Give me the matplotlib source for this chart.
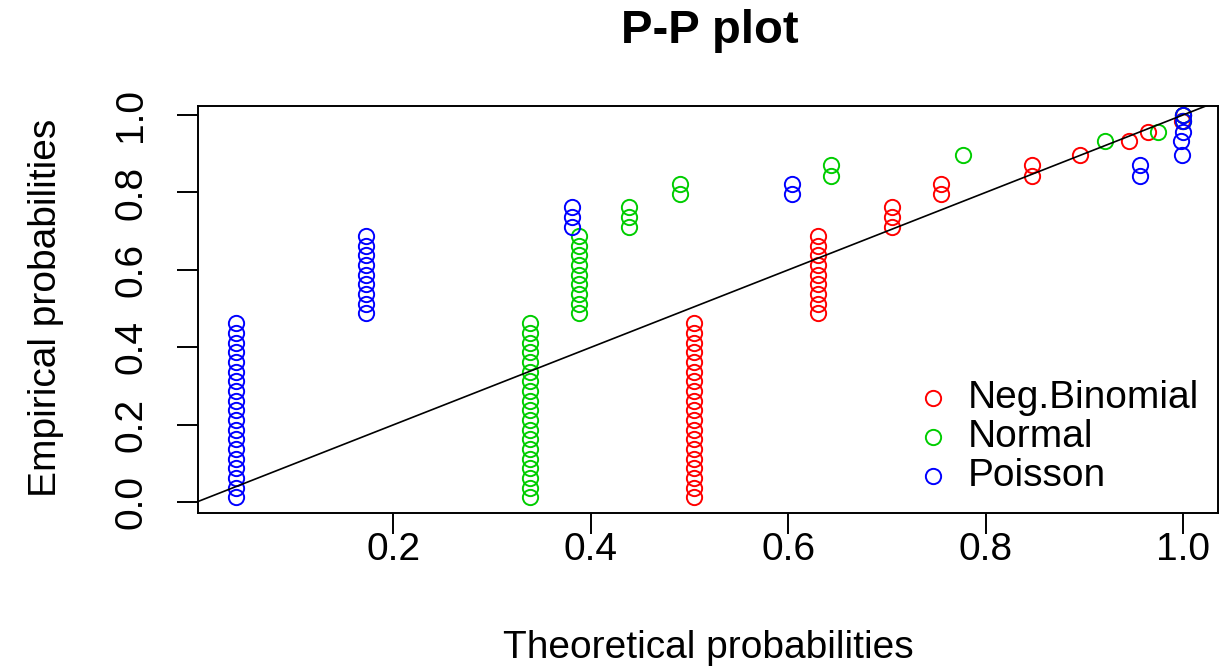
import numpy as np
import matplotlib
matplotlib.use("Agg")
import matplotlib.pyplot as plt

plt.rcParams["font.family"] = ["Liberation Sans", "DejaVu Sans"]

# Empirical probabilities of the sorted sample (n = 40)
emp_prob = [0.0125, 0.0375, 0.0625, 0.0875, 0.1125, 0.1375, 0.1625, 0.1875,
            0.2125, 0.2375, 0.2625, 0.2875, 0.3125, 0.3375, 0.3625, 0.3875,
            0.4125, 0.4375, 0.4625,
            0.4875, 0.5125, 0.5375, 0.5625, 0.5875, 0.6125, 0.6375, 0.6625,
            0.6875,
            0.710, 0.736, 0.763,
            0.795, 0.822,
            0.842, 0.872,
            0.897, 0.932, 0.956, 0.985, 0.999]

# Number of tied observations for each distinct observed value
tie_counts = [19, 9, 3, 2, 2, 1, 1, 1, 1, 1]

# Theoretical CDF at each distinct observed value, per fitted distribution
theo_negbin = [0.505, 0.630, 0.705, 0.755, 0.847, 0.896, 0.945, 0.965, 0.999, 1.000]
theo_normal = [0.338, 0.388, 0.439, 0.490, 0.643, 0.777, 0.921, 0.975, 1.000, 1.000]
theo_poisson = [0.040, 0.172, 0.381, 0.604, 0.956, 0.999, 0.998, 1.000, 1.000, 1.000]

series_names = ["Neg.Binomial", "Normal", "Poisson"]
series_theo = [theo_negbin, theo_normal, theo_poisson]
series_colors = ["#FF0000", "#00CD00", "#0000FF"]

tick_vals = [0.0, 0.2, 0.4, 0.6, 0.8, 1.0]
tick_labels = ["0.0", "0.2", "0.4", "0.6", "0.8", "1.0"]

W, H = 1220, 669
fig = plt.figure(figsize=(W / 100, H / 100), dpi=100)
fig.patch.set_facecolor("white")

# plot region in pixel terms
left_px, right_px, top_px, bottom_px = 198, 1218, 105.7, 512.7
ax = fig.add_axes([left_px / W, 1 - bottom_px / H,
                   (right_px - left_px) / W, (bottom_px - top_px) / H])
ax.set_xlim(0.002, 1.0355)
ax.set_ylim(-0.0269, 1.024)

MS, MEW = 11, 1.4

y = np.asarray(emp_prob)
for name, theo, col in zip(series_names, series_theo, series_colors):
    x = np.repeat(theo, tie_counts)
    ax.plot(x, y, linestyle="none", marker="o", markersize=MS,
            markerfacecolor="none", markeredgecolor=col, markeredgewidth=MEW)

ax.axline((0, 0), slope=1, color="black", linewidth=1.2)

for s in ax.spines.values():
    s.set_linewidth(1.4)

ax.set_xticks(tick_vals[1:])
ax.set_xticklabels(tick_labels[1:])
ax.set_yticks(tick_vals)
ax.set_yticklabels(tick_labels, rotation=90, va="center")
ax.tick_params(axis="both", direction="out", length=15, width=1.4,
               labelsize=28, colors="black")
ax.tick_params(axis="x", pad=-1)
ax.tick_params(axis="y", pad=20)

# legend without a frame
leg_rows_px = [398, 437, 476]
for name, col, py in zip(series_names, series_colors, leg_rows_px):
    ya = (bottom_px - py) / (bottom_px - top_px)
    ax.plot([(933 - left_px) / (right_px - left_px)], [ya],
            transform=ax.transAxes, linestyle="none", marker="o",
            markersize=MS, markerfacecolor="none", markeredgecolor=col,
            markeredgewidth=MEW, clip_on=False)
    ax.text((968 - left_px) / (right_px - left_px), ya, name,
            transform=ax.transAxes, fontsize=28, va="center", ha="left")

fig.text(710 / W, 1 - 31 / H, "P-P plot", fontsize=34, fontweight="bold",
         ha="center", va="center")
fig.text(708 / W, 1 - 648 / H, "Theoretical probabilities", fontsize=28,
         ha="center", va="center")
fig.text(46 / W, 1 - 308 / H, "Empirical probabilities", fontsize=28,
         rotation=90, ha="center", va="center")

fig.savefig("out.png", dpi=100, facecolor="white")
